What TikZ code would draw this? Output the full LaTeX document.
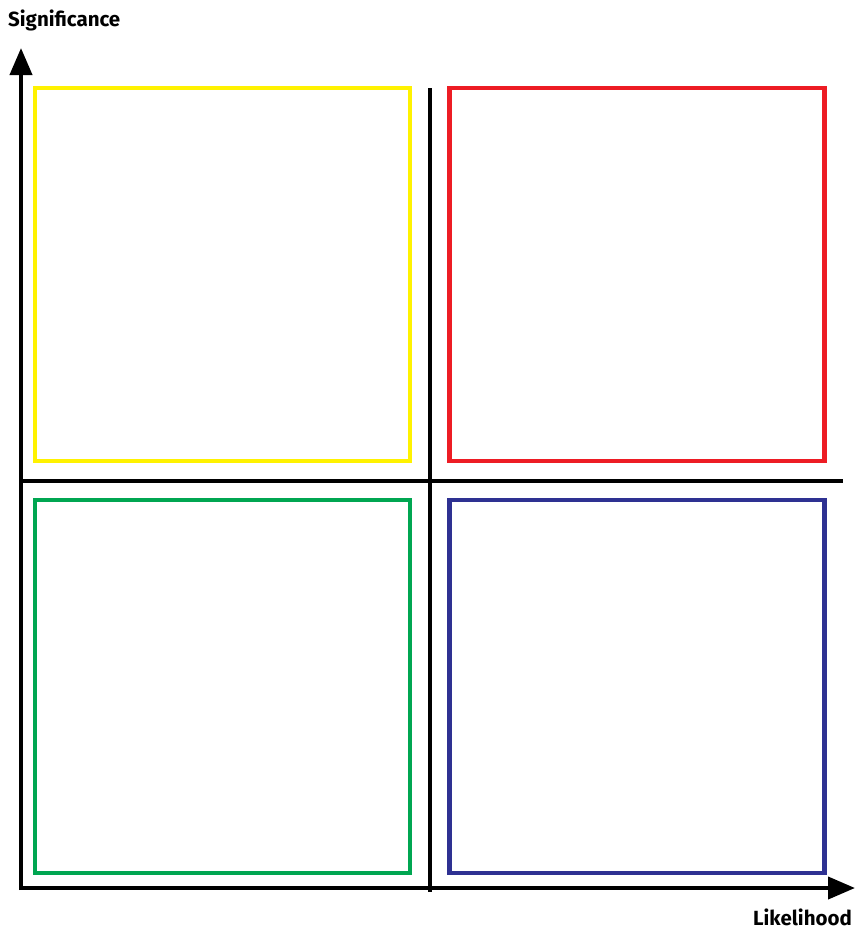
\documentclass[tikz,border=0pt]{standalone}
\usepackage{fontspec}
\setmainfont{Fira Sans}
\usetikzlibrary{arrows.meta}
\definecolor{qyellow}{HTML}{FFF200}
\definecolor{qred}{HTML}{ED1C24}
\definecolor{qgreen}{HTML}{00A651}
\definecolor{qblue}{HTML}{2E3192}
\tikzset{
  quad/.style={draw=#1, line width=4.5pt, minimum width=375pt, minimum height=373pt, inner sep=0pt, outer sep=0pt},
  axis/.style={line width=4pt, -{Triangle[length=27pt,width=22pt]}},
  divider/.style={line width=4pt},
  lbl/.style={font=\bfseries\fontsize{20.5}{24}\selectfont, inner sep=0pt}
}
\begin{document}
\begin{tikzpicture}[x=1pt,y=-1pt]
\useasboundingbox (0,0) rectangle (855,930);
\node[quad=qyellow] (yel) at (222.5,274.5) {};
\node[quad=qred] (red) at (637,274.5) {};
\node[quad=qgreen] (grn) at (222.5,686.5) {};
\node[quad=qblue] (blu) at (637,686.5) {};
\coordinate (origin) at (19,888);
\coordinate (ytip) at (21,48);
\coordinate (xtip) at (855,888);
\coordinate (vtop) at (430,88);
\coordinate (vbot) at (430,892);
\coordinate (hl) at (21,481);
\coordinate (hr) at (843,481);
\draw[axis] (origin -| ytip) ++(0,2) -- (ytip);
\draw[axis] (origin) -- (xtip);
\draw[divider] (vtop) -- (vbot);
\draw[divider] (hl) -- (hr);
\node[lbl, anchor=west] (sig) at (8,20) {Significance};
\node[lbl, anchor=east] (lik) at (852,917) {Likelihood};
\end{tikzpicture}
\end{document}
